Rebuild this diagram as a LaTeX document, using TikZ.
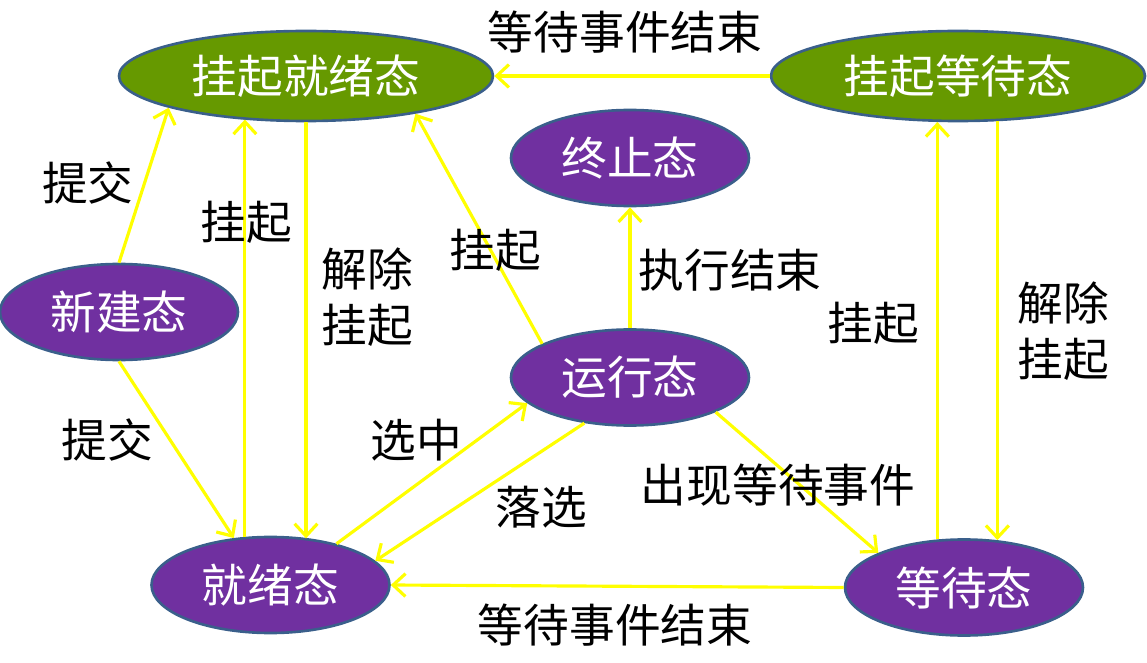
\documentclass[tikz,border=0pt]{standalone}
\usepackage{fontspec}
\newfontfamily\cjk{Noto Sans CJK SC}
\usetikzlibrary{arrows.meta,positioning,calc,shapes.geometric}
\definecolor{leafgreen}{HTML}{669900}
\definecolor{statepurple}{HTML}{7030A0}
\definecolor{rimblue}{HTML}{3A5F8B}
\definecolor{flowyellow}{HTML}{FFFF00}

\begin{document}
\begin{tikzpicture}[
    state/.style={ellipse,draw=rimblue,line width=1.5pt,text=white,inner sep=0pt,
        font=\cjk\fontsize{26}{32}\selectfont},
    suspended/.style={state,fill=leafgreen,minimum width=7.48cm,minimum height=1.8cm},
    active/.style={state,fill=statepurple,minimum width=4.76cm,minimum height=1.92cm},
    trans/.style={-{Straight Barb[length=7pt,width=13pt]},flowyellow,line width=1.8pt},
    lbl/.style={font=\cjk\fontsize{26}{32}\selectfont,align=center}
]
    \useasboundingbox (0,0) rectangle (22.94,13.24);

    % Suspended states
    \node[suspended] (gready) at (6.12,11.72) {挂起就绪态};
    \node[suspended] (gwait) at (19.16,11.72) {挂起等待态};

    % Active states
    \node[active] (term) at (12.6,10.08) {终止态};
    \node[active] (new) at (2.38,7.0) {新建态};
    \node[active] (run) at (12.6,5.69) {运行态};
    \node[active] (ready) at (5.41,1.54) {就绪态};
    \node[active] (wait) at (19.28,1.49) {等待态};

    % Transitions
    \draw[trans] (new.north) -- (gready.193);
    \draw[trans] (new.south) -- (ready.128);
    \draw[trans] (ready.118) -- (ready.118 |- gready.214);
    \draw[trans] (gready.270) -- (gready.270 |- ready.50);
    \draw[trans] (run.159) -- (gready.341);
    \draw[trans] (run.north) -- (term.south);
    \draw[trans] (ready.32) -- (run.194);
    \draw[trans] (run.225) -- (ready.13);
    \draw[trans] (run.338) -- (wait.158);
    \draw[trans] (wait.west) -- (ready.east);
    \draw[trans] (wait.119) -- (wait.119 |- gwait.244);
    \draw[trans] (gwait.311) -- (gwait.311 |- wait.55);
    \draw[trans] (gwait.west) -- (gready.east);

    % Labels
    \node[lbl] (submitup) at (1.76,9.58) {提交};
    \node[lbl] (suspready) at (4.92,8.8) {挂起};
    \node[lbl] (resumeready) at (7.34,7.3) {解除\\挂起};
    \node[lbl] (susprun) at (9.9,8.24) {挂起};
    \node[lbl] (finish) at (14.6,7.84) {执行结束};
    \node[lbl] (suspwait) at (17.46,6.78) {挂起};
    \node[lbl] (resumewait) at (21.26,6.62) {解除\\挂起};
    \node[lbl] (submitdown) at (2.14,4.44) {提交};
    \node[lbl] (pick) at (8.32,4.44) {选中};
    \node[lbl] (drop) at (10.82,3.1) {落选};
    \node[lbl] (block) at (15.56,3.54) {出现等待事件};
    \node[lbl] (wakeup) at (12.3,0.74) {等待事件结束};
    \node[lbl] (wakeupsusp) at (12.5,12.6) {等待事件结束};
\end{tikzpicture}
\end{document}
